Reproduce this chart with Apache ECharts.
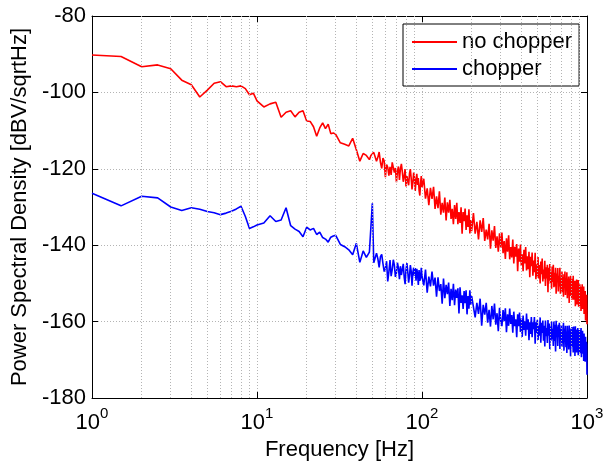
<!DOCTYPE html>
<html>
<head>
<meta charset="utf-8">
<script src="https://cdn.jsdelivr.net/npm/echarts@6/dist/echarts.min.js"></script>
<style>
  html, body { margin: 0; padding: 0; background: #fff; }
  #main { width: 604px; height: 461px; }
</style>
</head>
<body>
<div id="main"></div>
<script>
// frequencies [Hz], split by range
var freqLow = [1, 1.5, 2, 2.5, 3, 3.5, 4, 4.5, 5, 5.5, 6, 6.5, 7, 7.5, 8, 8.5, 9, 9.5, 10];
var freqMid = [11, 12, 13, 14, 15, 16, 17, 18, 19, 20, 21, 22, 23, 24, 25, 26, 27, 28, 29, 30,
  32, 34, 36, 38, 40, 42, 44, 46, 48, 49, 50, 51,
  52, 53, 54, 55, 56, 57, 58, 59, 60, 61, 62, 63, 64, 65, 66, 67, 68, 69, 70,
  71, 72, 73, 74, 75, 76, 77, 78, 79, 80, 81, 82, 83, 84, 85, 86, 87, 88, 89, 90,
  91, 92, 93, 94, 95, 96, 97, 98, 99, 100];
var freqHigh = [
  102.5, 105, 107.5, 110, 112.5, 115, 117.5, 120, 122.5, 125,
  127.5, 130, 132.5, 135, 137.5, 140, 142.5, 145, 147.5, 150,
  152.5, 155, 157.5, 160, 162.5, 165, 167.5, 170, 172.5, 175,
  177.5, 180, 182.5, 185, 187.5, 190, 192.5, 195, 197.5, 200,
  205, 210, 215, 220, 225, 230, 235, 240, 245, 250,
  255, 260, 265, 270, 275, 280, 285, 290, 295, 300,
  305, 310, 315, 320, 325, 330, 335, 340, 345, 350,
  355, 360, 365, 370, 375, 380, 385, 390, 395, 400,
  405, 410, 415, 420, 425, 430, 435, 440, 445, 450,
  455, 460, 465, 470, 475, 480, 485, 490, 495, 500,
  505, 510, 515, 520, 525, 530, 535, 540, 545, 550,
  555, 560, 565, 570, 575, 580, 585, 590, 595, 600,
  605, 610, 615, 620, 625, 630, 635, 640, 645, 650,
  655, 660, 665, 670, 675, 680, 685, 690, 695, 700,
  705, 710, 715, 720, 725, 730, 735, 740, 745, 750,
  755, 760, 765, 770, 775, 780, 785, 790, 795, 800,
  805, 810, 815, 820, 825, 830, 835, 840, 845, 850,
  855, 860, 865, 870, 875, 880, 885, 890, 895, 900,
  905, 910, 915, 920, 925, 930, 935, 940, 945, 950,
  955, 960, 965, 970, 975, 980, 985, 990, 995, 1000];

// no chopper (red) [dBV/sqrtHz]
var noChopLow = [-90.2, -90.6, -93.3, -92.8, -93.8, -96.8, -98.0, -101.2, -99.4, -97.6, -97.2,
  -98.5, -98.3, -98.5, -98.3, -99.0, -100.6, -100.2, -102.2];
var noChopMid = [-103.8, -103.0, -102.6, -106.5, -105.2, -104.8, -106.4, -105.2, -104.8, -107.5,
  -107.6, -109.0, -111.5, -109.3, -108.0, -109.5, -108.3, -110.8, -110.6, -111.0,
  -113.2, -113.6, -114.0, -112.0, -115.0, -118.0, -116.0, -116.5, -117.6, -116.5, -116.0, -115.7,
  -115.5, -118.0, -117.0, -115.6, -118.3, -119.9, -117.2, -118.0, -122.2, -118.9, -119.6,
  -121.8, -119.5, -121.6, -118.3, -117.9, -121.0, -119.8, -123.5,
  -120.6, -119.4, -122.9, -120.0, -118.7, -120.8, -123.4, -122.0, -120.1, -124.6,
  -121.9, -121.6, -124.3, -121.2, -120.1, -122.5, -125.4, -123.7, -121.0, -122.4,
  -125.8, -123.0, -121.3, -124.2, -122.4, -125.6, -127.0, -123.8, -121.9, -124.8];
var noChopHigh = [
  -122.6, -127.8, -125.1, -129.5, -125.0, -127.9, -124.7, -130.5, -127.2, -130.3,
  -125.9, -132.0, -128.9, -131.5, -127.5, -133.5, -128.8, -131.5, -128.1, -133.1,
  -130.5, -134.5, -129.5, -133.1, -128.9, -134.5, -131.3, -134.2, -130.1, -137.0,
  -131.3, -133.7, -130.4, -136.0, -132.2, -135.2, -130.6, -136.9, -133.4, -136.3,
  -131.6, -137.0, -133.9, -138.5, -133.5, -136.5, -132.9, -138.9, -135.9, -138.5,
  -134.4, -140.9, -136.1, -138.8, -135.0, -140.7, -137.7, -141.7, -136.9, -140.7,
  -136.7, -142.1, -138.9, -143.6, -138.2, -141.7, -137.4, -143.7, -140.5, -143.2,
  -138.5, -144.8, -140.4, -143.0, -139.7, -146.8, -140.9, -144.3, -139.8, -145.4,
  -142.4, -146.8, -141.2, -144.8, -140.5, -146.6, -142.9, -146.3, -141.7, -148.4,
  -143.0, -145.5, -141.9, -148.0, -144.0, -147.1, -142.0, -148.9, -145.0, -148.2,
  -143.1, -148.7, -145.2, -150.0, -144.3, -147.6, -143.5, -149.5, -146.4, -148.8,
  -144.1, -150.7, -145.8, -148.7, -145.1, -152.3, -145.9, -149.3, -144.9, -150.1,
  -147.1, -151.4, -145.6, -149.6, -145.1, -151.0, -147.2, -150.8, -145.9, -152.7,
  -147.4, -149.7, -146.0, -152.1, -148.0, -150.8, -145.9, -152.7, -148.7, -151.9,
  -146.9, -152.3, -148.4, -153.5, -147.6, -151.1, -146.9, -153.0, -149.8, -152.0,
  -147.1, -153.9, -148.8, -151.6, -148.2, -155.1, -148.8, -152.5, -148.0, -153.3,
  -150.0, -154.3, -148.8, -152.8, -148.0, -154.3, -150.7, -153.9, -149.3, -156.0,
  -150.3, -152.8, -149.0, -155.5, -151.1, -154.4, -149.1, -156.1, -151.9, -155.5,
  -150.2, -155.9, -152.0, -157.2, -150.9, -154.8, -150.2, -156.7, -153.2, -155.9,
  -150.8, -158.0, -152.6, -156.2, -152.0, -159.7, -153.1, -158.4, -153.0, -160.7];

// chopper (blue) [dBV/sqrtHz]
var chopLow = [-126.4, -129.7, -127.2, -127.6, -130.0, -130.9, -130.2, -130.6, -131.2, -131.5,
  -132.0, -131.6, -131.1, -130.5, -129.8, -132.5, -135.6, -135.2, -134.7];
var chopMid = [-134.2, -132.3, -133.8, -133.4, -130.2, -134.9, -135.8, -136.4, -137.8, -135.3,
  -136.0, -135.6, -137.2, -136.6, -138.0, -138.4, -139.2, -137.9, -137.6, -137.4,
  -139.8, -140.4, -141.2, -142.5, -139.5, -144.5, -141.5, -143.2, -141.8, -142.2, -129.0, -144.6,
  -144.2, -142.1, -143.5, -145.8, -143.0, -142.4, -144.8, -146.9, -146.0, -144.2, -149.5,
  -147.0, -143.9, -148.1, -146.4, -143.8, -145.2, -148.3, -147.2,
  -144.6, -146.0, -148.9, -145.5, -147.8, -147.3, -144.9, -148.4, -150.2, -146.4,
  -144.7, -147.0, -149.8, -148.0, -145.2, -146.8, -150.6, -147.2, -145.9, -148.0,
  -146.0, -149.3, -146.2, -147.5, -150.4, -146.5, -149.3, -148.6, -145.9, -148.2];
var chopHigh = [
  -150.5, -146.4, -152.4, -148.2, -150.8, -146.9, -150.6, -148.5, -153.5, -148.4,
  -152.0, -150.2, -155.3, -148.7, -153.9, -150.4, -152.8, -149.8, -155.9, -151.4,
  -154.4, -150.1, -155.7, -151.6, -153.8, -151.3, -157.9, -151.0, -155.1, -153.1,
  -156.7, -152.0, -155.2, -151.8, -158.1, -153.3, -156.6, -151.8, -155.6, -153.3,
  -153.2, -158.9, -155.1, -158.0, -154.0, -161.1, -155.6, -158.2, -155.1, -160.3,
  -156.9, -161.3, -155.9, -159.4, -155.3, -160.8, -157.8, -162.5, -156.4, -159.8,
  -161.2, -157.0, -159.9, -156.5, -162.8, -158.1, -161.1, -156.6, -160.6, -158.3,
  -162.9, -157.4, -161.2, -159.4, -164.1, -158.1, -161.2, -157.6, -162.7, -159.2,
  -164.0, -158.4, -162.2, -159.9, -163.7, -157.9, -162.1, -159.4, -164.9, -160.2,
  -163.2, -158.8, -164.1, -160.2, -162.0, -158.8, -165.8, -160.2, -163.0, -159.5,
  -164.8, -161.1, -163.7, -158.9, -165.5, -160.3, -163.0, -159.7, -165.0, -161.1,
  -166.5, -159.7, -163.8, -161.7, -165.6, -159.6, -163.7, -160.5, -167.2, -161.3,
  -165.0, -160.0, -164.6, -161.9, -166.4, -160.0, -165.1, -160.8, -167.8, -159.8,
  -164.1, -161.3, -166.4, -160.8, -163.9, -160.3, -167.2, -161.9, -165.0, -160.9,
  -166.6, -162.6, -165.6, -160.3, -167.6, -161.8, -164.6, -161.1, -166.7, -162.6,
  -168.2, -161.1, -165.5, -163.1, -167.3, -161.0, -165.3, -161.8, -169.1, -162.6,
  -166.6, -161.4, -166.2, -163.3, -168.1, -161.3, -166.7, -162.2, -169.0, -161.2,
  -165.7, -162.7, -168.1, -162.1, -165.5, -161.7, -168.8, -163.3, -166.6, -162.2,
  -168.3, -163.9, -167.2, -161.7, -169.3, -163.1, -166.3, -162.4, -168.4, -164.0,
  -170.3, -163.1, -168.0, -165.6, -170.5, -164.0, -170.0, -165.3, -166.0, -173.9];

// minor grid positions (2..9 per decade)
var minorGrid = [2, 3, 4, 5, 6, 7, 8, 9, 20, 30, 40, 50, 60, 70, 80, 90,
  200, 300, 400, 500, 600, 700, 800, 900];
var yTicks = { min: -180, max: -80, step: 20 };

var FONT = 'Liberation Sans, Arial, Helvetica, sans-serif';
var supDigits = { 1: '0', 10: '1', 100: '2', 1000: '3' };

function pairs(xs, ys) {
  var out = [];
  for (var i = 0; i < xs.length; i++) {
    out.push([xs[i], ys[i]]);
  }
  return out;
}

var freqAll = freqLow.concat(freqMid, freqHigh);
var noChopAll = noChopLow.concat(noChopMid, noChopHigh);
var chopAll = chopLow.concat(chopMid, chopHigh);

var chart = echarts.init(document.getElementById('main'), null, { renderer: 'canvas' });

var gridLine = { color: '#b4b4b4', width: 1, type: [1, 2] };

var option = {
  animation: false,
  backgroundColor: '#fff',
  textStyle: { fontFamily: FONT },
  grid: { left: 92, right: 17, top: 16, bottom: 63, containLabel: false, outerBoundsMode: 'none' },
  legend: {
    data: ['no chopper', 'chopper'],
    orient: 'vertical',
    left: 403,
    top: 24,
    icon: 'rect',
    itemWidth: 45,
    itemHeight: 2,
    itemGap: 3,
    padding: [6, 7, 5, 9],
    backgroundColor: '#fff',
    borderColor: '#000',
    borderWidth: 1,
    borderRadius: 0,
    textStyle: { fontSize: 22, lineHeight: 24, color: '#000', fontFamily: FONT, padding: [0, 0, 0, 0] }
  },
  xAxis: [{
    type: 'log',
    logBase: 10,
    min: 1,
    max: 1000,
    name: 'Frequency [Hz]',
    nameLocation: 'middle',
    nameGap: 32,
    nameTextStyle: { fontSize: 22, color: '#000', fontFamily: FONT },
    axisLine: { lineStyle: { color: '#000', width: 1 } },
    axisTick: { inside: true, length: 6, lineStyle: { color: '#000' } },
    axisLabel: {
      margin: 8,
      formatter: function (v) {
        return '{b|10}{s|' + (supDigits[Math.round(v)] || '') + '}';
      },
      rich: {
        b: { fontSize: 22, color: '#000', fontFamily: FONT, lineHeight: 28, verticalAlign: 'bottom' },
        s: { fontSize: 15, color: '#000', fontFamily: FONT, lineHeight: 16, verticalAlign: 'top' }
      }
    },
    splitLine: { show: true, lineStyle: gridLine }
  }, {
    type: 'log',
    logBase: 10,
    min: 1,
    max: 1000,
    position: 'top',
    axisLine: { show: true, lineStyle: { color: '#000', width: 1 } },
    axisTick: { show: true, inside: true, length: 6, lineStyle: { color: '#000' } },
    axisLabel: { show: false },
    splitLine: { show: false }
  }],
  yAxis: [{
    type: 'value',
    min: yTicks.min,
    max: yTicks.max,
    interval: yTicks.step,
    name: 'Power Spectral Density [dBV/sqrtHz]',
    nameLocation: 'middle',
    nameRotate: 90,
    nameGap: 60,
    nameTextStyle: { fontSize: 22, color: '#000', fontFamily: FONT },
    axisLine: { show: true, lineStyle: { color: '#000', width: 1 } },
    axisTick: { show: true, inside: true, length: 6, lineStyle: { color: '#000' } },
    axisLabel: { fontSize: 22, color: '#000', margin: 6, fontFamily: FONT },
    splitLine: { show: true, lineStyle: gridLine }
  }, {
    type: 'value',
    min: yTicks.min,
    max: yTicks.max,
    interval: yTicks.step,
    position: 'right',
    axisLine: { show: true, lineStyle: { color: '#000', width: 1 } },
    axisTick: { show: true, inside: true, length: 6, lineStyle: { color: '#000' } },
    axisLabel: { show: false },
    splitLine: { show: false }
  }],
  series: [{
    // minor grid lines at 2..9 per decade
    name: 'grid',
    type: 'line',
    data: [],
    z: 1,
    silent: true,
    markLine: {
      silent: true,
      symbol: ['none', 'none'],
      label: { show: false },
      lineStyle: gridLine,
      emphasis: { disabled: true },
      animation: false,
      data: minorGrid.map(function (f) { return { xAxis: f }; })
    }
  }, {
    name: 'no chopper',
    type: 'line',
    color: '#ff0000',
    data: pairs(freqAll, noChopAll),
    showSymbol: false,
    symbol: 'none',
    z: 3,
    lineStyle: { color: '#ff0000', width: 1.6 }
  }, {
    name: 'chopper',
    type: 'line',
    color: '#0000ff',
    data: pairs(freqAll, chopAll),
    showSymbol: false,
    symbol: 'none',
    z: 3,
    lineStyle: { color: '#0000ff', width: 1.6 }
  }]
};

chart.setOption(option);
</script>
</body>
</html>
